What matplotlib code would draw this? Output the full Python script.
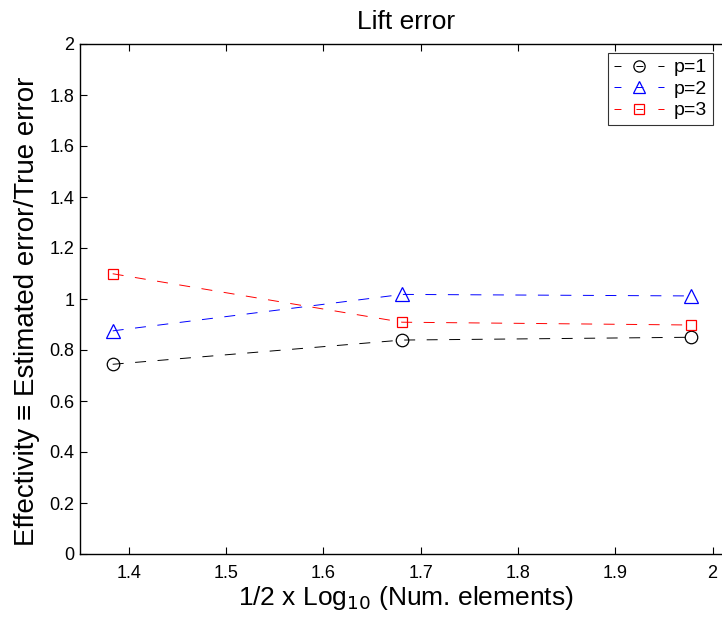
import matplotlib
matplotlib.use("Agg")
import matplotlib.pyplot as plt
from matplotlib.lines import Line2D

plt.rcParams['font.family'] = ['Liberation Sans', 'DejaVu Sans']
plt.rcParams['lines.scale_dashes'] = False

x = [1.3836, 1.681, 1.978]
p1 = [0.744, 0.839, 0.850]
p2 = [0.875, 1.018, 1.012]
p3 = [1.099, 0.909, 0.898]
labels = ['p=1', 'p=2', 'p=3']
colors = ['black', 'blue', 'red']
markers = ['o', '^', 's']
msizes = [9, 9.5, 7.5]

fig = plt.figure(figsize=(7.22, 6.17), dpi=100)
ax = fig.add_axes([80/722, 63/617, 652/722, 510/617])

handles = []
for y, lab, c, m, ms in zip([p1, p2, p3], labels, colors, markers, msizes):
    ax.plot(x, y, linestyle=(0, (7.9, 8.3)), color=c, lw=0.7, marker=m, ms=ms,
            mfc='none', mec=c, mew=0.9)
    handles.append(Line2D([], [], linestyle=(0, (5, 10.8)), color=c, lw=0.7,
                          marker=m, ms=ms * 0.9, mfc='none', mec=c, mew=0.9, label=lab))

ax.set_xlim(1.35, 2.02)
ax.set_ylim(0, 2)
ax.set_xticks([1.4, 1.5, 1.6, 1.7, 1.8, 1.9, 2.0])
ax.set_xticklabels(['1.4', '1.5', '1.6', '1.7', '1.8', '1.9', '2'])
ax.set_yticks([0, 0.2, 0.4, 0.6, 0.8, 1.0, 1.2, 1.4, 1.6, 1.8, 2.0])
ax.set_yticklabels(['0', '0.2', '0.4', '0.6', '0.8', '1', '1.2', '1.4', '1.6', '1.8', '2'])
ax.tick_params(direction='in', top=True, right=True, labelsize=13, length=5, width=0.8)
ax.tick_params(axis='x', pad=8)
ax.tick_params(axis='y', pad=4)
for s in ax.spines.values():
    s.set_linewidth(1.0)

ax.set_xlabel(r'1/2 x Log$_{10}$ (Num. elements)', fontsize=19, labelpad=1)
ax.set_ylabel('Effectivity ≡ Estimated error/True error', fontsize=20)
ax.yaxis.set_label_coords(-40 / 652, (554 - 311) / 510)
ax.set_title('Lift error', fontsize=19, pad=11)

leg = ax.legend(handles=handles, loc='upper right', fontsize=14, handlelength=2.6,
                frameon=True, fancybox=False, edgecolor='black',
                bbox_to_anchor=((713 - 80) / 652, (554 - 53) / 510),
                borderaxespad=0.0, labelspacing=0.2, handletextpad=0.5,
                borderpad=0.3)
leg.get_frame().set_linewidth(0.8)

fig.savefig('out.png', dpi=100)
